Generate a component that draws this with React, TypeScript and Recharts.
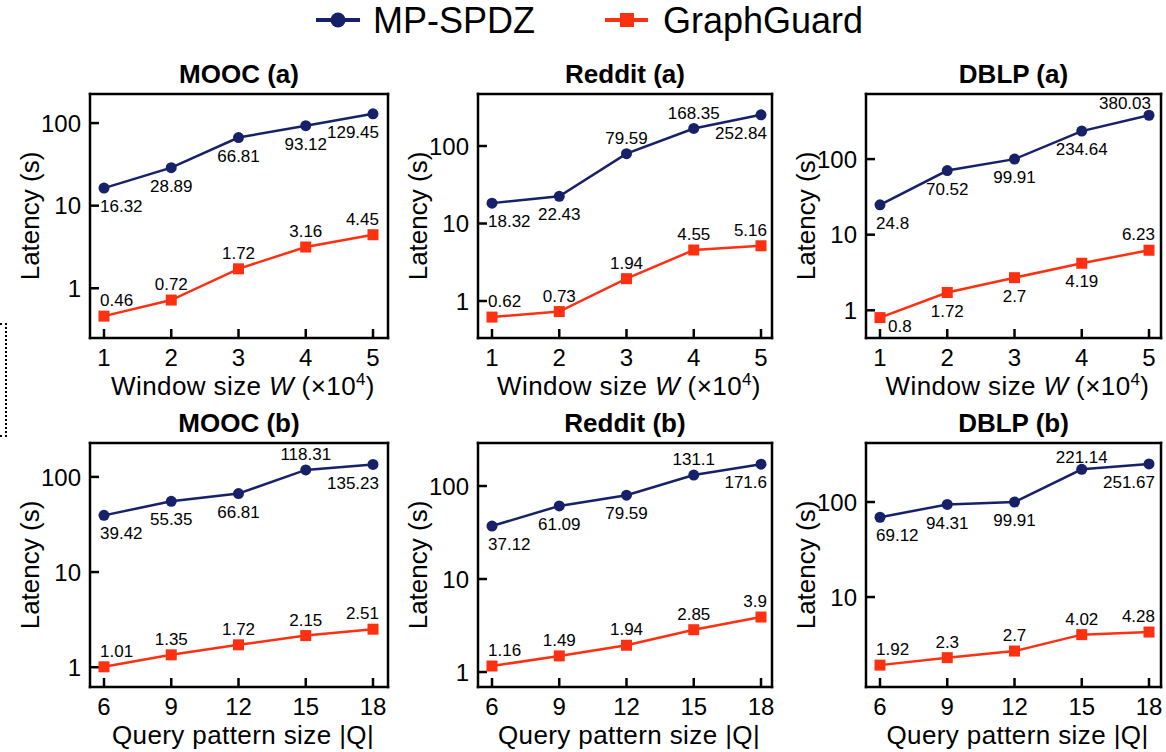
import { LineChart, Line, XAxis, YAxis, LabelList } from 'recharts'

const FONT = '"Liberation Sans", Arial, Helvetica, sans-serif'
const NAVY = '#172169'
const RED = '#fd3012'

// x values
const windowSizes = [1, 2, 3, 4, 5]
const patternSizes = [6, 9, 12, 15, 18]

// latency (s), window size sweep
const moocWindowMp = [16.32, 28.89, 66.81, 93.12, 129.45]
const moocWindowGg = [0.46, 0.72, 1.72, 3.16, 4.45]
const redditWindowMp = [18.32, 22.43, 79.59, 168.35, 252.84]
const redditWindowGg = [0.62, 0.73, 1.94, 4.55, 5.16]
const dblpWindowMp = [24.8, 70.52, 99.91, 234.64, 380.03]
const dblpWindowGg = [0.8, 1.72, 2.7, 4.19, 6.23]

// latency (s), query pattern size sweep
const moocPatternMp = [39.42, 55.35, 66.81, 118.31, 135.23]
const moocPatternGg = [1.01, 1.35, 1.72, 2.15, 2.51]
const redditPatternMp = [37.12, 61.09, 79.59, 131.1, 171.6]
const redditPatternGg = [1.16, 1.49, 1.94, 2.85, 3.9]
const dblpPatternMp = [69.12, 94.31, 99.91, 221.14, 251.67]
const dblpPatternGg = [1.92, 2.3, 2.7, 4.02, 4.28]

const latencyTicks = [1, 10, 100]

// layout of the plot boxes
const COLS = [
	{ left: 90, right: 388 },
	{ left: 478, right: 772 },
	{ left: 866, right: 1161 },
]
const ROWS = [
	{ top: 94, bottom: 338 },
	{ top: 443, bottom: 687 },
]

type Panel = {
	title: string
	row: number
	col: number
	xs: number[]
	mp: number[]
	gg: number[]
	yDomain: [number, number]
	yTicks: number[]
	mpPos: string
	ggPos: string
	xKind: 'window' | 'pattern'
}

// label placement: a = above, b = below, r = below right, t = tight above
const panels: Panel[] = [
	{ title: 'MOOC (a)', row: 0, col: 0, xs: windowSizes, mp: moocWindowMp, gg: moocWindowGg, yDomain: [0.25, 225], yTicks: latencyTicks, mpPos: 'bbbbb', ggPos: 'aaaaa', xKind: 'window' },
	{ title: 'Reddit (a)', row: 0, col: 1, xs: windowSizes, mp: redditWindowMp, gg: redditWindowGg, yDomain: [0.333, 469], yTicks: latencyTicks, mpPos: 'bbaab', ggPos: 'aaaaa', xKind: 'window' },
	{ title: 'DBLP (a)', row: 0, col: 2, xs: windowSizes, mp: dblpWindowMp, gg: dblpWindowGg, yDomain: [0.43, 726], yTicks: latencyTicks, mpPos: 'bbbbt', ggPos: 'rbbba', xKind: 'window' },
	{ title: 'MOOC (b)', row: 1, col: 0, xs: patternSizes, mp: moocPatternMp, gg: moocPatternGg, yDomain: [0.62, 227], yTicks: latencyTicks, mpPos: 'bbbab', ggPos: 'aaaaa', xKind: 'pattern' },
	{ title: 'Reddit (b)', row: 1, col: 1, xs: patternSizes, mp: redditPatternMp, gg: redditPatternGg, yDomain: [0.69, 290], yTicks: latencyTicks, mpPos: 'bbbab', ggPos: 'aaaaa', xKind: 'pattern' },
	{ title: 'DBLP (b)', row: 1, col: 2, xs: patternSizes, mp: dblpPatternMp, gg: dblpPatternGg, yDomain: [1.13, 418], yTicks: [10, 100], mpPos: 'bbbtb', ggPos: 'aaaaa', xKind: 'pattern' },
]

const frame = { stroke: '#000', strokeWidth: 2.5, strokeLinecap: 'square' as const }
const tickStroke = { stroke: '#000', strokeWidth: 2.5 }

const YTick = (props: any) => {
	const { x, y, payload } = props
	return (
		<text x={x} y={y} dy='0.36em' textAnchor='end' fontSize={24} fontFamily={FONT} fill='#000'>
			{payload.value}
		</text>
	)
}

const XTick = (props: any) => {
	const { x, y, payload } = props
	return (
		<text x={x} y={y} dy='0.7em' textAnchor='middle' fontSize={24} fontFamily={FONT} fill='#000'>
			{payload.value}
		</text>
	)
}

const makeLabel = (pos: string, count: number) => (p: any) => {
	const x = Number(p.x ?? p.viewBox?.x)
	const y = Number(p.y ?? p.viewBox?.y)
	const i = p.index
	const kind = pos[i]
	let anchor: 'start' | 'middle' | 'end' = 'middle'
	let dx = 0
	let dy = kind === 'b' ? 18 : kind === 't' ? -12 : -16
	if (kind === 'r') {
		anchor = 'start'
		dx = 8
		dy = 8
	} else if (i === 0) {
		anchor = 'start'
		dx = -4
	} else if (i === count - 1) {
		anchor = 'end'
		dx = kind === 't' ? 2 : 6
	}
	return (
		<text key={`l${i}`} x={x + dx} y={y + dy} dy='0.36em' textAnchor={anchor} fontSize={17} fontFamily={FONT} fill='#000'>
			{p.value}
		</text>
	)
}

function PanelChart({ cfg }: { cfg: Panel }) {
	const { left, right } = COLS[cfg.col]
	const { top, bottom } = ROWS[cfg.row]
	const boxW = right - left
	const boxH = bottom - top
	const ML = 90
	const MT = 60
	const MR = 10
	const XH = 65
	const data = cfg.xs.map((x, i) => ({ x, mp: cfg.mp[i], gg: cfg.gg[i] }))
	const xDomain = [cfg.xs[0], cfg.xs[cfg.xs.length - 1]]
	const pad = { left: 14, right: boxW - 14 - 269 }

	const titleLabel = (p: any) => {
		const vb = p.viewBox
		return (
			<text x={vb.x + vb.width / 2} y={vb.y + vb.height - 11} textAnchor='middle' fontSize={26} fontWeight='bold' fontFamily={FONT} fill='#000'>
				{cfg.title}
			</text>
		)
	}

	const xLabel = (p: any) => {
		const vb = p.viewBox
		const cx = vb.x + vb.width / 2 + 4
		const by = vb.y + 57
		if (cfg.xKind === 'window') {
			return (
				<text x={cx} y={by} textAnchor='middle' fontSize={26} letterSpacing={0.4} fontFamily={FONT} fill='#000'>
					<tspan>Window size </tspan>
					<tspan fontStyle='italic'>W</tspan>
					<tspan> (×10</tspan>
					<tspan dy={-10} fontSize={17}>4</tspan>
					<tspan dy={10}>)</tspan>
				</text>
			)
		}
		return (
			<text x={cx} y={by} textAnchor='middle' fontSize={26} letterSpacing={0.4} fontFamily={FONT} fill='#000'>
				Query pattern size |Q|
			</text>
		)
	}

	const yLabel = (p: any) => {
		const vb = p.viewBox
		const cx = vb.x + vb.width - 60
		const cy = vb.y + vb.height / 2
		return (
			<text x={cx} y={cy} dy='0.36em' transform={`rotate(-90 ${cx} ${cy})`} textAnchor='middle' fontSize={26} fontFamily={FONT} fill='#000'>
				Latency (s)
			</text>
		)
	}

	return (
		<div style={{ position: 'absolute', left: left - ML, top: top - MT }}>
			<LineChart width={ML + boxW + MR} height={MT + boxH + XH} data={data} margin={{ top: MT - 1, right: MR - 1, bottom: 0, left: 0 }}>
				<XAxis
					dataKey='x'
					type='number'
					domain={xDomain}
					ticks={cfg.xs}
					interval={0}
					padding={pad}
					height={XH}
					tickSize={-9}
					tickMargin={20}
					tickLine={tickStroke}
					tick={XTick}
					axisLine={frame}
					label={xLabel}
				/>
				<XAxis
					xAxisId='top'
					orientation='top'
					dataKey='x'
					type='number'
					domain={xDomain}
					padding={pad}
					height={1}
					tick={false}
					tickLine={false}
					axisLine={frame}
					label={titleLabel}
				/>
				<YAxis
					type='number'
					scale='log'
					domain={cfg.yDomain}
					ticks={cfg.yTicks}
					interval={0}
					width={ML}
					tickSize={-9}
					tickMargin={18}
					tickLine={tickStroke}
					tick={YTick}
					axisLine={frame}
					label={yLabel}
				/>
				<YAxis yAxisId='right' orientation='right' width={1} domain={[0, 1]} tick={false} tickLine={false} axisLine={frame} />
				<Line
					dataKey='mp'
					stroke={NAVY}
					strokeWidth={2.5}
					dot={{ r: 5.5, fill: NAVY, stroke: NAVY, strokeWidth: 0 }}
					activeDot={false}
					isAnimationActive={false}
				>
					<LabelList dataKey='mp' content={makeLabel(cfg.mpPos, data.length)} />
				</Line>
				<Line
					dataKey='gg'
					stroke={RED}
					strokeWidth={2.5}
					dot={(p: any) => <rect key={`sq${p.index}`} x={p.cx - 5.5} y={p.cy - 5.5} width={11} height={11} fill={RED} />}
					activeDot={false}
					isAnimationActive={false}
				>
					<LabelList dataKey='gg' content={makeLabel(cfg.ggPos, data.length)} />
				</Line>
			</LineChart>
		</div>
	)
}

function LegendBar() {
	return (
		<svg width={1166} height={45} style={{ position: 'absolute', left: 0, top: 0 }}>
			<line x1={316} x2={360} y1={20} y2={20} stroke={NAVY} strokeWidth={4} />
			<circle cx={338} cy={20} r={7.5} fill={NAVY} />
			<text x={373} y={33} fontSize={36} fontFamily={FONT} fill='#000'>MP-SPDZ</text>
			<line x1={605} x2={648} y1={20} y2={20} stroke={RED} strokeWidth={4} />
			<rect x={620} y={13} width={14} height={14} fill={RED} />
			<text x={663} y={33} fontSize={36} fontFamily={FONT} fill='#000'>GraphGuard</text>
		</svg>
	)
}

export default function App() {
	return (
		<div style={{ position: 'absolute', left: 0, top: 0, width: 1166, height: 752, background: '#fff', overflow: 'hidden' }}>
			<LegendBar />
			{panels.map(p => (
				<PanelChart key={p.title} cfg={p} />
			))}
			<div
				style={{
					position: 'absolute',
					left: 0,
					top: 323,
					width: 5,
					height: 110,
					borderTop: '2px dotted #000',
					borderRight: '2px dotted #000',
					borderBottom: '2px dotted #000',
				}}
			/>
		</div>
	)
}
